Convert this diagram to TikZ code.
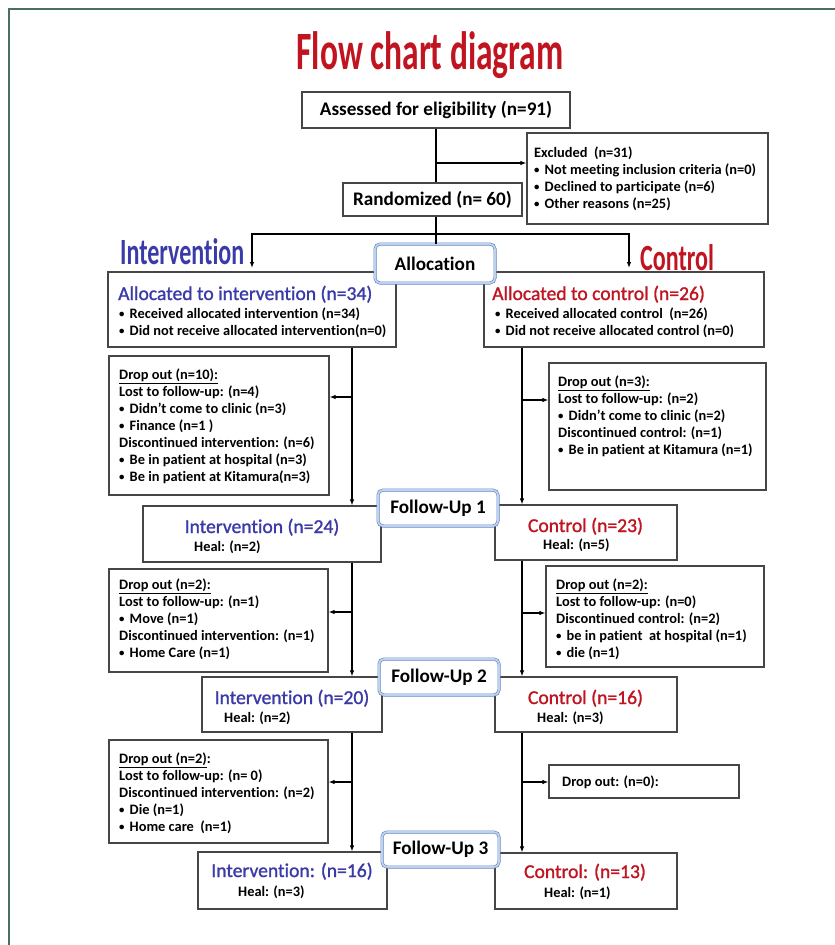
\documentclass[tikz,border=0pt]{standalone}
\usepackage{fontspec}
\setmainfont{Carlito}[Ligatures=NoCommon]
\newfontface\demigras{Carlito}[FakeBold=1.2, Ligatures=NoCommon]
\usepackage{graphicx}
\usetikzlibrary{arrows.meta}
\definecolor{titrerouge}{RGB}{192,20,32}
\definecolor{bleuint}{RGB}{58,58,168}
\definecolor{cadre}{RGB}{74,110,100}
\definecolor{bord}{RGB}{70,70,70}
\definecolor{suivibord}{RGB}{95,130,190}
\definecolor{suivifond}{RGB}{190,210,240}
\newcommand{\petit}{\fontsize{14.4}{17}\selectfont\bfseries}
\newcommand{\moyen}{\fontsize{19.2}{22}\selectfont\bfseries}
\newcommand{\groupe}{\fontsize{19.6}{22}\selectfont\demigras}
\newcommand{\puce}{\makebox[10.5pt][l]{\raisebox{0.15ex}{\scalebox{0.75}{\textbullet}}}}
\begin{document}
\begin{tikzpicture}[x=1pt, y=-1pt, % une unite = un pixel de l'image
  boite/.style={draw=bord, line width=1.2pt, fill=white, inner sep=0pt},
  suivi/.style={draw=suivibord, double=suivifond, double distance=1.8pt, line width=0.6pt, rounded corners=5pt, fill=white, inner sep=0pt, font=\moyen, minimum width=120pt, minimum height=36pt},
  lignes/.style={anchor=north west, inner sep=0pt, align=left, font=\petit},
  heal/.style={anchor=base west, inner sep=0pt, font=\petit},
  titregr/.style={anchor=base, inner sep=0pt, font=\groupe},
  fleche/.style={-{Latex[length=6pt,width=4.5pt]}, line width=1.1pt},
  trait/.style={line width=1.1pt}]

\useasboundingbox (0,0) rectangle (835,945);
\draw[cadre, line width=2pt] (835,8.5) -- (8.5,8.5) -- (8.5,945);

\node[anchor=base, inner sep=0pt, text=titrerouge, font=\fontsize{54}{60}\selectfont\bfseries] (titre) at (430,69) {\scalebox{0.62}[1]{Flow chart diagram}};

\node[boite, font=\moyen, minimum width=268pt, minimum height=36pt] (evalue) at (436,110) {Assessed for eligibility (n=91)};
\node[boite, minimum width=241pt, minimum height=91pt] (exclu) at (647.5,178.5) {};
\node[lignes] (exclu-t) at (534,145.1) {\strut Excluded\ \ (n=31)\\\puce Not meeting inclusion criteria (n=0)\\\puce Declined to participate (n=6)\\\puce Other reasons (n=25)};
\node[boite, font=\moyen, minimum width=179pt, minimum height=33pt] (rando) at (432.5,199.5) {Randomized (n= 60)};

% Les deux bras
\node[anchor=base west, inner sep=0pt, text=bleuint, font=\fontsize{37}{40}\selectfont\bfseries] (lbl-int) at (120,264) {\scalebox{0.65}[1]{Intervention}};
\node[anchor=base west, inner sep=0pt, text=titrerouge, font=\fontsize{37}{40}\selectfont\bfseries] (lbl-ctl) at (640,270) {\scalebox{0.65}[1]{Control}};

\node[boite, minimum width=288pt, minimum height=75pt] (allouI) at (252,309.5) {};
\node[anchor=base west, inner sep=0pt, font=\groupe, text=bleuint] (allouI-t) at (118,300) {Allocated to intervention (n=34)};
\node[lignes] (allouI-l) at (119,306.6) {\strut\puce Received allocated intervention (n=34)\\\puce Did not receive allocated intervention(n=0)};
\node[boite, minimum width=280pt, minimum height=75pt] (allouC) at (624,309.5) {};
\node[anchor=base west, inner sep=0pt, font=\groupe, text=titrerouge] (allouC-t) at (492,300) {Allocated to control (n=26)};
\node[lignes] (allouC-l) at (495,306.6) {\strut\puce Received allocated control\ \ (n=26)\\\puce Did not receive allocated control (n=0)};
\node[suivi, minimum height=39pt] (alloc) at (435,263.5) {Allocation};

% Suivi 1
\node[boite, minimum width=220pt, minimum height=139pt] (perteI1) at (219,425.5) {};
\node[lignes] (perteI1-t) at (119,367.6) {\strut\underline{Drop out (n=10):}\\Lost to follow-up: (n=4)\\\puce Didn’t come to clinic (n=3)\\\puce Finance (n=1 )\\Discontinued intervention: (n=6)\\\puce Be in patient at hospital (n=3)\\\puce Be in patient at Kitamura(n=3)};
\node[boite, minimum width=217pt, minimum height=127pt] (perteC1) at (657.5,426.5) {};
\node[lignes] (perteC1-t) at (558,374.6) {\strut\underline{Drop out (n=3):}\\Lost to follow-up: (n=2)\\\puce Didn’t come to clinic (n=2)\\Discontinued control: (n=1)\\\puce Be in patient at Kitamura (n=1)};

\node[boite, minimum width=238pt, minimum height=56pt] (int1) at (262,534) {};
\node[titregr, text=bleuint] (int1-t) at (262,533) {Intervention (n=24)};
\node[heal] (int1-h) at (194,551) {Heal: (n=2)};
\node[boite, minimum width=182pt, minimum height=55pt] (ctl1) at (586,532.5) {};
\node[titregr, text=titrerouge] (ctl1-t) at (585.5,532) {Control (n=23)};
\node[heal] (ctl1-h) at (543,549) {Heal: (n=5)};
\node[suivi] (suivi1) at (438,508) {Follow-Up 1};

% Suivi 2
\node[boite, minimum width=219pt, minimum height=103pt] (perteI2) at (218.5,620.5) {};
\node[lignes] (perteI2-t) at (119,577.1) {\strut\underline{Drop out (n=2):}\\Lost to follow-up: (n=1)\\\puce Move (n=1)\\Discontinued intervention: (n=1)\\\puce Home Care (n=1)};
\node[boite, minimum width=218pt, minimum height=101pt] (perteC2) at (655,616.5) {};
\node[lignes] (perteC2-t) at (556,577.1) {\strut\underline{Drop out (n=2):}\\Lost to follow-up: (n=0)\\Discontinued control: (n=2)\\\puce be in patient\ \ at hospital (n=1)\\\puce die (n=1)};

\node[boite, minimum width=180pt, minimum height=55pt] (int2) at (292,704.5) {};
\node[titregr, text=bleuint] (int2-t) at (292,704) {Intervention (n=20)};
\node[heal] (int2-h) at (224,722) {Heal: (n=2)};
\node[boite, minimum width=182pt, minimum height=55pt] (ctl2) at (586,704.5) {};
\node[titregr, text=titrerouge] (ctl2-t) at (585.5,704) {Control (n=16)};
\node[heal] (ctl2-h) at (537,722) {Heal: (n=3)};
\node[suivi] (suivi2) at (439,677) {Follow-Up 2};

% Suivi 3
\node[boite, minimum width=219pt, minimum height=103pt] (perteI3) at (218.5,791.5) {};
\node[lignes] (perteI3-t) at (119,751.1) {\strut\underline{Drop out (n=2)}:\\Lost to follow-up: (n= 0)\\Discontinued intervention: (n=2)\\\puce Die (n=1)\\\puce Home care\ \ (n=1)};
\node[boite, minimum width=190pt, minimum height=33pt] (perteC3) at (644,781.5) {};
\node[heal] (perteC3-t) at (562,786) {Drop out: (n=0):};

\node[boite, minimum width=189pt, minimum height=57pt] (int3) at (292.5,880.5) {};
\node[titregr, text=bleuint] (int3-t) at (292,877) {Intervention: (n=16)};
\node[heal] (int3-h) at (238,896) {Heal: (n=3)};
\node[boite, minimum width=182pt, minimum height=56pt] (ctl3) at (586,881) {};
\node[titregr, text=titrerouge] (ctl3-t) at (585,878) {Control: (n=13)};
\node[heal] (ctl3-h) at (544,897) {Heal: (n=1)};
\node[suivi, minimum width=117pt, minimum height=35pt] (suivi3) at (440.5,849.5) {Follow-Up 3};

% Connecteurs
\coordinate (split) at (436,234);
\coordinate (excl-b) at (436,163);
\coordinate (tipI) at (252,268);
\coordinate (tipC) at (629,268);
\coordinate (colL) at (352,0);
\coordinate (colR) at (522,0);
\coordinate (br1L) at (352,397);
\coordinate (br1R) at (522,400);
\coordinate (br2L) at (352,612);
\coordinate (br2R) at (522,613);
\coordinate (br3L) at (352,782);
\coordinate (br3R) at (522,782);

\draw[trait] (split |- evalue.south) -- (split |- rando.north) (split |- rando.south) -- (split |- alloc.north);
\draw[fleche] (excl-b) -- (excl-b -| exclu.west);
\draw[fleche] (split) -| (tipI);
\draw[fleche] (split) -| (tipC);

\draw[fleche] (colL |- allouI.south) -- (colL |- int1.north);
\draw[fleche] (colR |- allouC.south) -- (colR |- ctl1.north);
\draw[fleche] (colL |- int1.south) -- (colL |- int2.north);
\draw[fleche] (colR |- ctl1.south) -- (colR |- ctl2.north);
\draw[fleche] (colL |- int2.south) -- (colL |- int3.north);
\draw[fleche] (colR |- ctl2.south) -- (colR |- ctl3.north);

\draw[fleche] (br1L) -- (br1L -| perteI1.east);
\draw[fleche] (br1R) -- (br1R -| perteC1.west);
\draw[fleche] (br2L) -- (br2L -| perteI2.east);
\draw[fleche] (br2R) -- (br2R -| perteC2.west);
\draw[fleche] (br3L) -- (br3L -| perteI3.east);
\draw[fleche] (br3R) -- (br3R -| perteC3.west);
\end{tikzpicture}
\end{document}
